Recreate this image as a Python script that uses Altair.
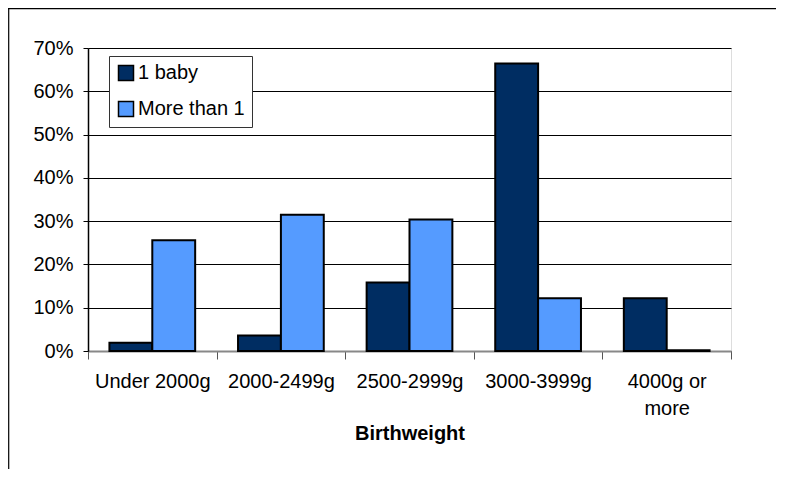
import altair as alt
import pandas as pd

categories = ["Under 2000g", "2000-2499g", "2500-2999g", "3000-3999g", "4000g or more"]
series = ["1 baby", "More than 1"]
one_baby = [1.9, 3.6, 15.8, 66.4, 12.2]
more_than_1 = [25.6, 31.5, 30.4, 12.2, 0.2]
y_ticks = [0, 0.1, 0.2, 0.3, 0.4, 0.5, 0.6, 0.7]

rows = []
for c, a, b in zip(categories, one_baby, more_than_1):
    rows.append({"cat": c, "series": series[0], "val": a / 100})
    rows.append({"cat": c, "series": series[1], "val": b / 100})
df = pd.DataFrame(rows)

FONT = "Liberation Sans"
FS = 20

bars = alt.Chart(df).mark_bar(stroke="black", strokeWidth=2).encode(
    x=alt.X("cat:N", sort=categories,
            scale=alt.Scale(paddingInner=0, paddingOuter=0),
            axis=alt.Axis(title="Birthweight", labelAngle=0, tickBand="extent",
                          tickSize=8, tickColor="#555", domainColor="#888", domainWidth=2,
                          labelPadding=12, labelFontSize=FS, labelColor="black",
                          labelLineHeight=27, labelFont=FONT,
                          labelExpr="datum.value == '4000g or more' ? ['4000g or', 'more'] : datum.value",
                          titleFont=FONT, titleFontSize=FS, titleFontWeight="bold",
                          titleColor="black", titleY=82, titleBaseline="middle")),
    xOffset=alt.XOffset("series:N", sort=series,
                        scale=alt.Scale(paddingInner=0, paddingOuter=0.5)),
    y=alt.Y("val:Q", scale=alt.Scale(domain=[0, 0.7], nice=False),
            axis=alt.Axis(title=None, format=".0%", values=y_ticks, grid=True,
                          gridColor="black", gridWidth=1, tickSize=5, tickColor="black",
                          domainColor="black", domainWidth=1.5, labelPadding=10,
                          labelFontSize=FS, labelColor="black", labelFont=FONT)),
    fill=alt.Fill("series:N", sort=series,
                  scale=alt.Scale(domain=series, range=["#002D62", "#559BFF"]),
                  legend=alt.Legend(orient="none", legendX=21, legendY=8, title=None,
                                    symbolType="square", symbolSize=225,
                                    symbolStrokeColor="black", symbolStrokeWidth=1.5,
                                    labelFontSize=FS, labelFont=FONT, labelColor="black",
                                    rowPadding=14, padding=7, labelOffset=2,
                                    strokeColor="#333", fillColor="white")),
)

frame_df = pd.DataFrame({"a": [0]})
top_line = alt.Chart(frame_df).mark_rule(color="black", strokeWidth=1.2).encode(
    x=alt.value(-80), x2=alt.value(700), y=alt.value(-39.3))
left_line = alt.Chart(frame_df).mark_rule(color="black", strokeWidth=1.2).encode(
    x=alt.value(-79.3), y=alt.value(-40), y2=alt.value(500))

chart = alt.layer(bars, top_line, left_line).properties(
    width=643, height=303,
    padding={"left": 80, "top": 40, "right": 45, "bottom": 118},
    autosize=alt.AutoSizeParams(type="none"),
).configure_view(stroke="#888", strokeWidth=2).configure(font=FONT)

chart.save("out.html", embed_options={"renderer": "svg", "actions": False})
